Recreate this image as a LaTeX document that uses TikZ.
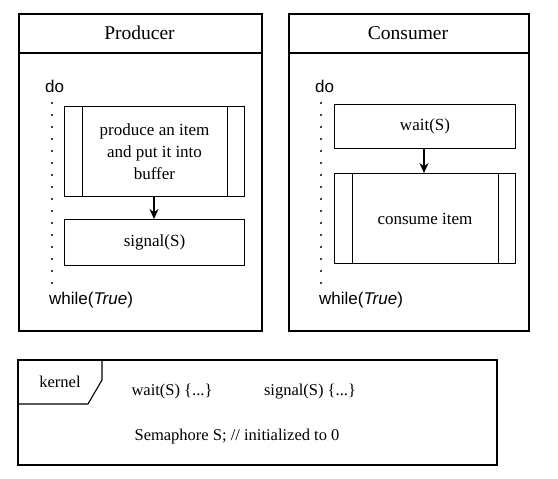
\documentclass[tikz,border=0pt]{standalone}
\usepackage{fontspec}
\setmainfont{Liberation Serif}
\setsansfont{Liberation Sans}
\usetikzlibrary{arrows.meta,calc}
\begin{document}
\begin{tikzpicture}[x=1pt,y=-1pt,
  frame/.style={draw,line width=2.2pt,anchor=north west,inner sep=0pt},
  box/.style={draw,line width=1pt,anchor=north west,inner sep=0pt,align=center,font=\fontsize{17}{22}\selectfont},
  title/.style={font=\fontsize{19.5}{23}\selectfont},
  kw/.style={font=\sffamily\fontsize{17}{20}\selectfont,anchor=west,inner sep=0pt},
  dotline/.style={line width=2.4pt,line cap=round,dash pattern=on 0pt off 12pt},
  arr/.style={-{Stealth[length=10pt,width=9pt]},line width=1.2pt},
  ktext/.style={font=\fontsize{16.5}{20}\selectfont,inner sep=0pt}]
\useasboundingbox (0,0) rectangle (558,479);
% Producer
\node[frame,minimum width=243pt,minimum height=317pt] (pf) at (18,13) {};
\draw[line width=2pt] (18,53) coordinate (pl) -- (261,53) coordinate (pr);
\node[title] (pt) at (139.5,33) {Producer};
\node[kw] (pdo) at (45,86) {do};
\coordinate (pd1) at (52,103);
\coordinate (pd2) at (52,284);
\draw[dotline] (pd1) -- (pd2);
\node[kw] (pwh) at (49,300) {while(\textit{True})};
\node[box,minimum width=180pt,minimum height=90pt] (pp) at (64,106) {produce an item\\and put it into\\buffer};
\draw[line width=1pt] ([xshift=18.5pt]pp.north west) -- ([xshift=18.5pt]pp.south west);
\draw[line width=1pt] ([xshift=-17.5pt]pp.north east) -- ([xshift=-17.5pt]pp.south east);
\node[box,minimum width=180pt,minimum height=46pt] (ps) at (64,219) {signal(S)};
\draw[arr] (pp.south -| 154,0) -- (ps.north -| 154,0);
% Consumer
\node[frame,minimum width=240pt,minimum height=317pt] (cf) at (288,13) {};
\draw[line width=2pt] (288,53) coordinate (cl) -- (528,53) coordinate (cr);
\node[title] (ct) at (408,33) {Consumer};
\node[kw] (cdo) at (315,86) {do};
\coordinate (cd1) at (321,103);
\coordinate (cd2) at (321,284);
\draw[dotline] (cd1) -- (cd2);
\node[kw] (cwh) at (319,300) {while(\textit{True})};
\node[box,minimum width=181pt,minimum height=44pt] (cw) at (334,104) {wait(S)};
\node[box,minimum width=181pt,minimum height=90pt] (cc) at (334,173) {consume item};
\draw[line width=1pt] ([xshift=18.5pt]cc.north west) -- ([xshift=18.5pt]cc.south west);
\draw[line width=1pt] ([xshift=-17.5pt]cc.north east) -- ([xshift=-17.5pt]cc.south east);
\draw[arr] (cw.south -| 424,0) -- (cc.north -| 424,0);
% Kernel
\node[frame,minimum width=479pt,minimum height=105pt] (kf) at (17,359) {};
\draw[line width=1.1pt] (102,359) coordinate (kt1) -- (102,380) coordinate (kt2) -- (88,404) coordinate (kt3) -- (17,404) coordinate (kt4);
\node[ktext] (kl) at (60,382) {kernel};
\node[ktext] (kw1) at (172,392) {wait(S) \{...\}};
\node[ktext] (ks1) at (310,392) {signal(S) \{...\}};
\node[ktext] (ksem) at (237,437) {Semaphore S; // initialized to 0};
\end{tikzpicture}
\end{document}
